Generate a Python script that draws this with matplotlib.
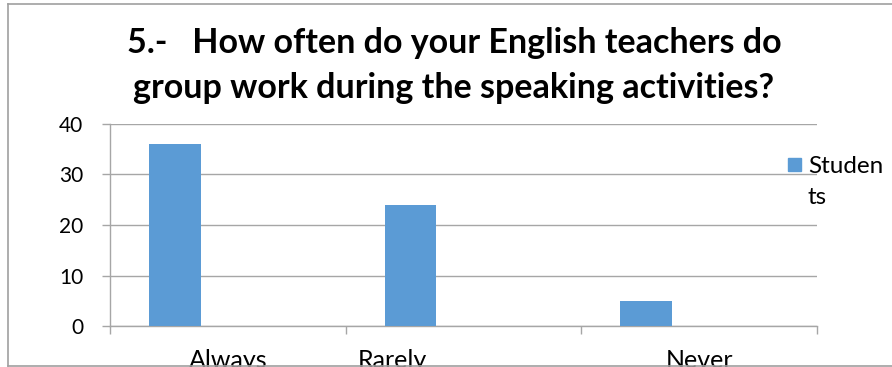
import matplotlib
matplotlib.use("Agg")
import matplotlib.pyplot as plt
import numpy as np
from matplotlib.patches import Rectangle
from matplotlib.lines import Line2D

plt.rcParams['font.family'] = ['Lato', 'DejaVu Sans']

# Survey answers
categories = ["Always", "Rarely", "Never"]
students = [36, 24, 5]
series_name = "Students"
y_ticks = [0, 10, 20, 30, 40]
title = "5.-   How often do your English teachers do\ngroup work during the speaking activities?"

W, H = 892, 367
BAR_COLOR = "#5b9bd5"
GRID_COLOR = "#a6a6a6"
BORDER_COLOR = "#a0a0a0"


def fx(px):
    return px / W


def fy(py):
    return 1 - py / H


fig = plt.figure(figsize=(W / 100, H / 100), dpi=100)
fig.patch.set_facecolor("white")

ax = fig.add_axes([fx(110), fy(326), fx(817) - fx(110), fy(124) - fy(326)])
x = np.arange(len(categories))

# Bars sit on the left side of each category slot
ax.bar(x - 0.225, students, width=0.22, color=BAR_COLOR, zorder=3)

ax.set_xlim(-0.5, len(categories) - 0.5)
ax.set_ylim(y_ticks[0], y_ticks[-1])
ax.set_yticks(y_ticks)
ax.yaxis.grid(True, color=GRID_COLOR, linewidth=1.0, zorder=0)
ax.set_axisbelow(True)

for side in ("top", "right"):
    ax.spines[side].set_visible(False)
for side in ("left", "bottom"):
    ax.spines[side].set_color(GRID_COLOR)
    ax.spines[side].set_linewidth(1.0)

# Category boundary ticks, labels on separate minor ticks
ax.set_xticks(np.arange(len(categories) + 1) - 0.5)
ax.set_xticklabels([])
label_pos = x + np.array([0.0, -0.3, 0.0])
ax.set_xticks(label_pos, minor=True)
ax.set_xticklabels(categories, minor=True, fontsize=18)
ax.tick_params(axis="x", which="major", length=5.5, color=GRID_COLOR, width=1.0)
ax.tick_params(axis="x", which="minor", length=0, pad=16.5)
ax.tick_params(axis="y", length=5.8, color=GRID_COLOR, width=1.0, pad=13.5,
               labelsize=15)

# Title (two lines, last baseline given)
fig.text(fx(454), fy(98), title, ha="center", va="baseline",
         multialignment="center", fontsize=24.5, fontweight="bold",
         linespacing=1.5)

# Legend
fig.patches.append(Rectangle((fx(788), fy(171)), fx(13), 13 / H,
                             transform=fig.transFigure, color=BAR_COLOR))
fig.text(fx(808), fy(204), "Studen\nts", ha="left", va="baseline",
         fontsize=17.5, linespacing=1.58)

# Chart border
fig.add_artist(Line2D([fx(8), 1.0], [fy(4), fy(4)], color=BORDER_COLOR,
                      linewidth=1.2, transform=fig.transFigure))
fig.add_artist(Line2D([fx(8), fx(8)], [fy(4), fy(366)], color=BORDER_COLOR,
                      linewidth=1.2, transform=fig.transFigure))
fig.add_artist(Line2D([fx(8), 1.0], [fy(366), fy(366)], color=BORDER_COLOR,
                      linewidth=1.2, transform=fig.transFigure))

fig.savefig("out.png", dpi=100, facecolor="white")
